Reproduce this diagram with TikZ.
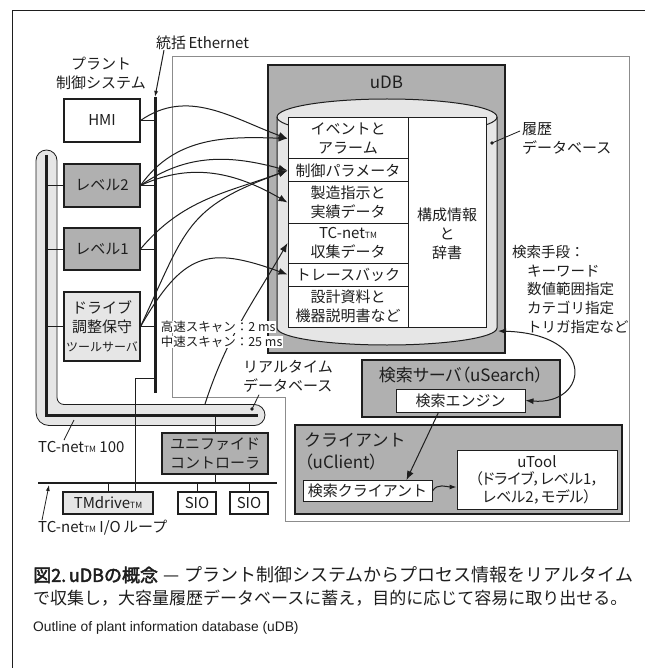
\documentclass[tikz,border=0pt]{standalone}
\usepackage{fontspec}
\setmainfont{Noto Sans CJK JP}
\newfontfamily\pfont{Noto Sans CJK JP}[RawFeature=+palt]
\newfontfamily\bfont{Noto Sans CJK JP}[FakeBold=2.5]
\newfontfamily\efont{Liberation Sans}
\usetikzlibrary{arrows.meta,calc}
\definecolor{dgray}{HTML}{B0B0B0}
\definecolor{lgray}{HTML}{E6E6E6}
\definecolor{fgray}{HTML}{8C8C8C}
\definecolor{ink}{HTML}{1E1E1E}
\newcommand\tmk{{\fontsize{8.5}{8.5}\selectfont TM}}
\tikzset{
  box/.style={draw=ink, line width=1.1pt, align=center, inner sep=0pt, text=ink, font=\fontsize{15}{19}\selectfont},
  cell/.style={box, line width=1pt, fill=white},
  lbl/.style={align=left, inner sep=0pt, text=ink, font=\fontsize{15}{19}\selectfont},
  flow/.style={draw=ink, line width=1pt, -{Latex[length=9pt,width=7pt]}},
  wire/.style={draw=ink, line width=1pt},
  bus/.style={draw=ink, line width=3pt},
}
\begin{document}
\begin{tikzpicture}[x=1pt,y=1pt]
\useasboundingbox (0,0) rectangle (645,-668);
\fill[white] (0,0) rectangle (645,-668);
% outer frame
\draw[ink, line width=0.9pt] (12,-668) -- (12,-10) -- (645,-10);
% system frame
\draw[fgray, line width=1pt] (172,-57) -- (629,-57) -- (629,-521) -- (285,-521) -- (285,-397) -- (172,-397) -- cycle;

% ---------- uDB ----------
\node[box, fill=dgray, minimum width=237pt, minimum height=288pt] (udb) at (386.5,-209) {};
\node[lbl, font=\fontsize{17}{20}\selectfont] (udbt) at (386.5,-82) {uDB};
\draw[ink, line width=1pt, fill=lgray] (277,-117) -- (277,-328)
  arc[start angle=180, end angle=360, x radius=110, y radius=17] -- (497,-117)
  arc[start angle=0, end angle=180, x radius=110, y radius=18] -- cycle;
\draw[ink, line width=1pt] (277,-117) arc[start angle=180, end angle=360, x radius=110, y radius=18];
\coordinate (cylbr) at (498,-331);

\node[cell, minimum width=120pt, minimum height=41pt] (r1) at (348,-138.5) {イベントと\\アラーム};
\node[cell, minimum width=120pt, minimum height=23pt] (r2) at (348,-170.5) {制御パラメータ};
\node[cell, minimum width=120pt, minimum height=41pt] (r3) at (348,-202.5) {製造指示と\\実績データ};
\node[cell, minimum width=120pt, minimum height=40pt] (r4) at (348,-243) {TC-net\tmk\\収集データ};
\node[cell, minimum width=120pt, minimum height=23pt] (r5) at (348,-274.5) {トレースバック};
\node[cell, minimum width=120pt, minimum height=41pt] (r6) at (348,-306.5) {設計資料と\\機器説明書など};
\node[cell, minimum width=78pt, minimum height=209pt] (rcol) at (447,-222.5) {};
\node[lbl, align=center] (rcolt) at (447,-233.5) {構成情報\\と\\辞書};

% right labels
\node[lbl, anchor=west] (hist) at (522,-138) {履歴\\データベース};
\coordinate (histdot) at (492,-143);
\fill[ink] (histdot) circle (1.8pt);
\draw[wire, line width=0.8pt] (histdot) -- ($(hist.west)+(-2,7)$);
\node[lbl, anchor=west, font=\fontsize{14.5}{18.75}\selectfont] (srch) at (512,-289.5)
  {検索手段：\\\hspace*{15pt}キーワード\\\hspace*{15pt}数値範囲指定\\\hspace*{15pt}カテゴリ指定\\\hspace*{15pt}トリガ指定など};

% ---------- search server / client ----------
\node[box, fill=dgray, minimum width=198pt, minimum height=57pt] (ss) at (461,-388.5) {};
\node[lbl, font=\pfont\fontsize{17}{20}\selectfont] (sst) at (461,-375) {検索サーバ（uSearch）};
\node[cell, minimum width=129pt, minimum height=23pt] (se) at (460.5,-400.5) {検索エンジン};

\node[box, fill=dgray, minimum width=327pt, minimum height=89pt] (cl) at (458.5,-469.5) {};
\node[lbl, anchor=west, font=\fontsize{17}{22}\selectfont] (clt) at (304,-451) {クライアント\\{\pfont（uClient）}};
\node[cell, minimum width=129pt, minimum height=21pt] (sc) at (367.5,-491) {検索クライアント};
\node[cell, minimum width=160pt, minimum height=59pt, font=\pfont\fontsize{15}{17.5}\selectfont] (ut) at (537,-479.5) {uTool\\（ドライブ，レベル1，\\レベル2，モデル）};

\draw[draw=ink, line width=1pt, {Latex[length=8pt,width=6pt]}-{Latex[length=8pt,width=6pt]}]
  (cylbr) .. controls +(100,-3) and +(63,-5) .. (se.east);
\draw[flow] ($(se.south west)!0.33!(se.south east)$) -- ($(sc.north west)!0.8!(sc.north east)$);
\draw[flow, -{Latex[length=7pt,width=5pt]}] (sc.east) to[out=60,in=180] ($(ut.west)+(0,-7.5)$);

% ---------- plant control system ----------
\node[lbl, align=center] (plant) at (101,-73) {プラント\\制御システム};
\node[lbl, anchor=west] (ethl) at (156,-43) {統括\,Ethernet};
\coordinate (ethT) at (155,-97);
\coordinate (ethB) at (155,-393);
\draw[wire, -{Latex[length=6pt,width=4pt]}] ($(ethl.south west)+(8,0)$) -- (ethT);

% TC-net 100 loop band
\draw[ink, fill=lgray, line width=0.8pt]
 (36,-160.5) arc[start angle=180,end angle=0,radius=10.5]
 -- (57,-397.5) arc[start angle=180,end angle=270,radius=7] -- (254.5,-404.5)
 arc[start angle=90,end angle=-90,radius=10.5] -- (49,-425.5)
 arc[start angle=270,end angle=180,radius=13] -- cycle;
\draw[bus] (46,-155) -- (46,-415) -- (258,-415);
\coordinate (tcL) at (46,-300);
\coordinate (tcB) at (150,-415);
\coordinate (tcU) at (205,-404);
\coordinate (rtdot) at (252,-409);
\fill[ink] (rtdot) circle (1.8pt);

\draw[bus] (ethT) -- (ethB);

\node[box, fill=white, minimum width=76pt, minimum height=43pt] (hmi) at (102,-120.5) {HMI};
\node[box, fill=dgray, minimum width=76pt, minimum height=43pt] (lv2) at (102,-185.5) {レベル2};
\node[box, fill=dgray, minimum width=76pt, minimum height=42pt] (lv1) at (102,-249) {レベル1};
\node[box, fill=lgray, minimum width=76pt, minimum height=69pt] (drv) at (102,-326.5) {ドライブ\\調整保守\\{\fontsize{12}{19}\selectfont ツールサーバ}};

\foreach \b in {hmi,lv2,lv1,drv} \draw[wire] (\b.east) -- (\b.east -| ethT);
\foreach \b in {lv2,lv1,drv} \draw[wire] (\b.west) -- (\b.west -| tcL);

% flows into database
\draw[flow] (hmi.east) to[out=35,in=160] (r1.west);
\draw[flow] (lv2.east) to[out=55,in=178] (r1.west);
\draw[flow] (lv2.east) to[out=35,in=165] (r2.west);
\draw[flow] (lv2.east) to[out=25,in=150] (r3.west);
\draw[flow] (lv1.east) to[out=50,in=200] (r2.west);
\draw[flow] (drv.east) to[out=65,in=200,looseness=1.3] (r2.west);
\draw[flow] (drv.east) to[out=60,in=160,looseness=1.4] (r5.west);
\draw[flow] (tcU) to[out=72,in=240] (r4.west);

\node[lbl, anchor=west, fill=white, inner sep=0.6pt, font=\fontsize{12.5}{14}\selectfont] (hs) at (160,-327) {高速スキャン：2 ms};
\node[lbl, anchor=west, fill=white, inner sep=0.6pt, font=\fontsize{12.5}{14}\selectfont] (ms) at (160,-342) {中速スキャン：25 ms};

\node[lbl, anchor=west] (rtl) at (243,-376.5) {リアルタイム\\データベース};
\draw[wire, line width=0.8pt] (rtdot) -- ($(rtl.south west)+(16,-2)$);

% ---------- field level ----------
\node[box, fill=dgray, minimum width=106pt, minimum height=41pt] (uc) at (215,-453.5) {ユニファイド\\コントローラ};
\coordinate (ioL) at (38,-483);
\coordinate (ioR) at (277,-483);
\draw[wire, line width=1.2pt] (ioL) -- (ioR);
\node[box, fill=lgray, minimum width=90pt, minimum height=22pt] (tmd) at (108,-503) {TMdrive\tmk};
\node[box, fill=white, minimum width=38pt, minimum height=22pt] (sio1) at (197,-503) {SIO};
\node[box, fill=white, minimum width=38pt, minimum height=22pt] (sio2) at (249,-503) {SIO};
\draw[wire] (uc.north) -- (uc.north |- tcB);
\draw[wire] (uc.south) -- (uc.south |- ioL);
\foreach \b in {tmd,sio1,sio2} \draw[wire] (\b.north) -- (\b.north |- ioL);
\coordinate (tmdR) at ($(tmd.north west)!0.8!(tmd.north east)$);
\draw[wire] (tmdR) |- ($(ethB)+(0,15)$);

\node[lbl, anchor=west] (tcl) at (38,-447) {TC-net\tmk\ 100};
\draw[wire, line width=0.8pt] ($(tcl.north west)+(26,1)$) -- (74,-420);
\node[lbl, anchor=west] (iol) at (38,-528) {TC-net\tmk\ I/O\,ループ};
\draw[wire, line width=0.8pt, -{Latex[length=6pt,width=4pt]}] ($(iol.north west)+(4,0)$) -- ($(ioL)+(11,-2)$);

% ---------- caption ----------
\node[anchor=west, inner sep=0pt, text=ink, font=\fontsize{18}{20}\selectfont] (cap1) at (33,-575)
  {\makebox[595pt][s]{{\bfont 図2.\ uDBの概念}\hspace{5pt plus 1fil}—\hspace{5pt plus 1fil}プラント制御システムからプロセス情報をリアルタイム}};
\node[anchor=west, inner sep=0pt, text=ink, font=\fontsize{17}{20}\selectfont] (cap2) at (33,-598)
  {\makebox[595pt][s]{で収集し，大容量履歴データベースに蓄え，目的に応じて容易に取り出せる。}};
\node[anchor=west, inner sep=0pt, text=ink, font=\efont\fontsize{13.8}{16}\selectfont] (cap3) at (33,-628)
  {Outline of plant information database (uDB)};
\end{tikzpicture}
\end{document}
